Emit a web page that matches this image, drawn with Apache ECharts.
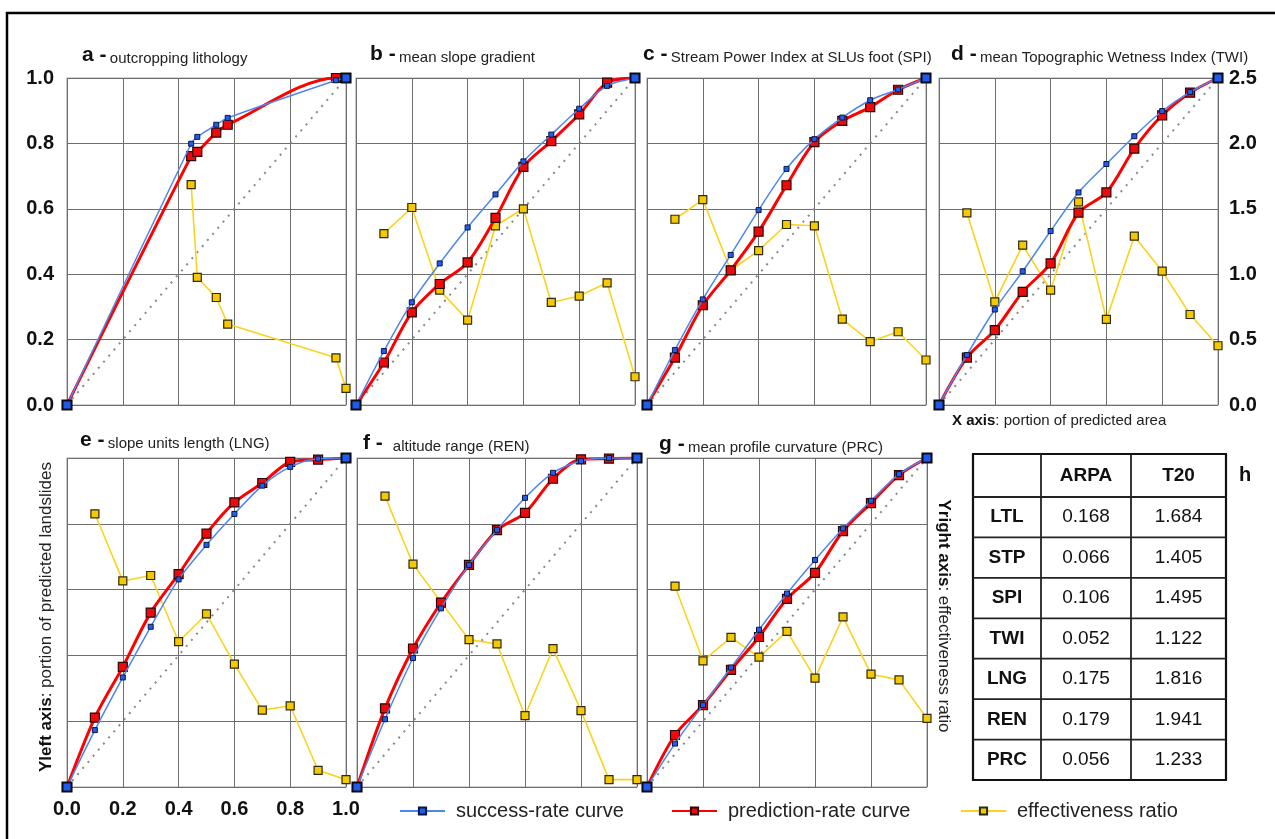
<!DOCTYPE html>
<html>
<head>
<meta charset="utf-8">
<script src="https://cdn.jsdelivr.net/npm/echarts@6/dist/echarts.min.js"></script>
<style>
html,body{margin:0;padding:0;background:#fff;}
#chart{width:1275px;height:839px;}
</style>
</head>
<body>
<div id="chart"></div>
<script>
// ---------------- DATA ----------------
const xDeciles = [0, 0.1, 0.2, 0.3, 0.4, 0.5, 0.6, 0.7, 0.8, 0.9, 1.0];
const effDeciles = [0.1, 0.2, 0.3, 0.4, 0.5, 0.6, 0.7, 0.8, 0.9, 1.0];

// a - outcropping lithology (irregular x)
const aX = [0, 0.445, 0.467, 0.535, 0.576, 0.964, 1.0];
const aSuccess = [0, 0.799, 0.820, 0.857, 0.878, 0.993, 1.0];
const aPrediction = [0, 0.761, 0.774, 0.833, 0.857, 1.0, 1.0];
const aEffX = [0.445, 0.467, 0.535, 0.576, 0.964, 1.0];
const aEff = [1.685, 0.975, 0.822, 0.619, 0.361, 0.127];

// b - mean slope gradient
const bSuccess = [0, 0.165, 0.314, 0.433, 0.543, 0.644, 0.745, 0.827, 0.906, 0.976, 1.0];
const bPrediction = [0, 0.130, 0.283, 0.370, 0.436, 0.572, 0.728, 0.807, 0.889, 0.986, 1.0];
const bEff = [1.31, 1.51, 0.878, 0.649, 1.37, 1.50, 0.784, 0.833, 0.934, 0.216];

// c - SPI
const cSuccess = [0, 0.168, 0.323, 0.459, 0.596, 0.722, 0.813, 0.879, 0.932, 0.965, 1.0];
const cPrediction = [0, 0.145, 0.305, 0.412, 0.530, 0.672, 0.804, 0.869, 0.911, 0.964, 1.0];
const cEff = [1.42, 1.57, 1.03, 1.18, 1.38, 1.37, 0.657, 0.484, 0.560, 0.344];

// d - TWI
const dSuccess = [0, 0.153, 0.292, 0.409, 0.532, 0.650, 0.737, 0.822, 0.899, 0.957, 1.0];
const dPrediction = [0, 0.145, 0.229, 0.346, 0.433, 0.588, 0.650, 0.784, 0.886, 0.955, 1.0];
const dEff = [1.469, 0.789, 1.222, 0.878, 1.553, 0.654, 1.291, 1.023, 0.692, 0.453];

// e - LNG
const eSuccess = [0, 0.173, 0.333, 0.487, 0.631, 0.736, 0.830, 0.916, 0.973, 0.998, 1.0];
const ePrediction = [0, 0.211, 0.365, 0.530, 0.647, 0.770, 0.865, 0.924, 0.988, 0.995, 1.0];
const eEff = [2.076, 1.566, 1.607, 1.104, 1.315, 0.934, 0.584, 0.617, 0.127, 0.056];

// f - REN
const fSuccess = [0, 0.206, 0.392, 0.543, 0.675, 0.781, 0.879, 0.955, 0.991, 1.0, 1.0];
const fPrediction = [0, 0.239, 0.421, 0.560, 0.675, 0.781, 0.833, 0.937, 0.996, 0.998, 1.0];
const fEff = [2.210, 1.693, 1.405, 1.120, 1.087, 0.542, 1.051, 0.580, 0.056, 0.056];

// g - PRC
const gSuccess = [0, 0.132, 0.249, 0.363, 0.478, 0.588, 0.690, 0.786, 0.870, 0.951, 1.0];
const gPrediction = [0, 0.158, 0.249, 0.356, 0.456, 0.572, 0.651, 0.778, 0.863, 0.948, 1.0];
const gEff = [1.526, 0.959, 1.137, 0.987, 1.183, 0.827, 1.292, 0.857, 0.814, 0.521];

const panelLetters = ['a', 'b', 'c', 'd', 'e', 'f', 'g'];
const panelTitles = ['outcropping lithology', 'mean slope gradient', 'Stream Power Index at SLUs foot (SPI)',
  'mean Topographic Wetness Index (TWI)', 'slope units length (LNG)', 'altitude range (REN)', 'mean profile curvature (PRC)'];

const tableHeader = ['', 'ARPA', 'T20'];
const tableRows = ['LTL', 'STP', 'SPI', 'TWI', 'LNG', 'REN', 'PRC'];
const tableArpa = ['0.168', '0.066', '0.106', '0.052', '0.175', '0.179', '0.056'];
const tableT20 = ['1.684', '1.405', '1.495', '1.122', '1.816', '1.941', '1.233'];

const legendNames = ['success-rate curve', 'prediction-rate curve', 'effectiveness ratio'];

// ---------------- LAYOUT ----------------
const FONT = '"Liberation Sans", Arial, sans-serif';
const panels = [
  {x: aX, s: aSuccess, p: aPrediction, ex: aEffX, e: aEff, g: {left: 67, top: 78, width: 279, height: 327}, t: [82, 54]},
  {x: xDeciles, s: bSuccess, p: bPrediction, ex: effDeciles, e: bEff, g: {left: 356, top: 78, width: 279, height: 327}, t: [370, 53]},
  {x: xDeciles, s: cSuccess, p: cPrediction, ex: effDeciles, e: cEff, g: {left: 647, top: 78, width: 279, height: 327}, t: [643, 53]},
  {x: xDeciles, s: dSuccess, p: dPrediction, ex: effDeciles, e: dEff, g: {left: 939, top: 78, width: 279, height: 327}, t: [951, 53]},
  {x: xDeciles, s: eSuccess, p: ePrediction, ex: effDeciles, e: eEff, g: {left: 67, top: 458, width: 279, height: 329}, t: [80, 439]},
  {x: xDeciles, s: fSuccess, p: fPrediction, ex: effDeciles, e: fEff, g: {left: 357, top: 458, width: 280, height: 329}, t: [363, 442]},
  {x: xDeciles, s: gSuccess, p: gPrediction, ex: effDeciles, e: gEff, g: {left: 647, top: 458, width: 280, height: 329}, t: [659, 443]}
];

const fmt1 = v => v.toFixed(1);
const boldLabel = {fontFamily: FONT, fontSize: 20, fontWeight: 'bold', color: '#111'};

const grids = [], xAxes = [], yAxes = [], series = [], graphics = [];

panels.forEach((pn, i) => {
  grids.push(Object.assign({show: true, borderColor: '#a8a8a8', borderWidth: 1.2, backgroundColor: 'transparent', outerBoundsMode: 'none'}, pn.g));
  xAxes.push({
    type: 'value', gridIndex: i, min: 0, max: 1, interval: 0.2,
    axisLine: {show: false}, axisTick: {show: false},
    axisLabel: Object.assign({show: i === 4, margin: 12, formatter: fmt1}, boldLabel),
    splitLine: {show: true, lineStyle: {color: '#6e6e6e', width: 1}}
  });
  yAxes.push({
    type: 'value', gridIndex: i, position: 'left', min: 0, max: 1, interval: 0.2,
    axisLine: {show: false}, axisTick: {show: false},
    axisLabel: Object.assign({show: i === 0, margin: 13, formatter: fmt1}, boldLabel),
    splitLine: {show: true, lineStyle: {color: '#6e6e6e', width: 1}}
  });
  yAxes.push({
    type: 'value', gridIndex: i, position: 'right', min: 0, max: 2.5, interval: 0.5,
    axisLine: {show: false}, axisTick: {show: false},
    axisLabel: Object.assign({show: i === 3, margin: 11, formatter: fmt1}, boldLabel),
    splitLine: {show: false}
  });

  // diagonal reference
  series.push({
    type: 'line', name: 'random', xAxisIndex: i, yAxisIndex: 2 * i, data: [[0, 0], [1, 1]],
    symbol: 'none', silent: true, z: 1,
    lineStyle: {color: '#8a8a8a', width: 2, type: [2, 6]}
  });
  // effectiveness ratio
  series.push({
    type: 'line', name: legendNames[2], xAxisIndex: i, yAxisIndex: 2 * i + 1,
    data: pn.ex.map((x, k) => [x, pn.e[k]]),
    symbol: 'rect', symbolSize: 8, z: 2,
    lineStyle: {color: '#fad31e', width: 1.6},
    itemStyle: {color: '#f5c800', borderColor: '#2e2a10', borderWidth: 1.2}
  });
  // prediction rate curve
  series.push({
    type: 'line', name: legendNames[1], xAxisIndex: i, yAxisIndex: 2 * i,
    data: pn.x.map((x, k) => [x, pn.p[k]]),
    smooth: 0.3, symbol: 'rect', symbolSize: 9, z: 3,
    lineStyle: {color: '#ff0000', width: 3},
    itemStyle: {color: '#ee0a0a', borderColor: '#2a0505', borderWidth: 1.2}
  });
  // success rate curve
  const last = pn.x.length - 1;
  series.push({
    type: 'line', name: legendNames[0], xAxisIndex: i, yAxisIndex: 2 * i,
    data: pn.x.map((x, k) => {
      if (k === 0 || k === last) {
        return {value: [x, pn.s[k]], symbolSize: 9, itemStyle: {color: '#1e5cf0', borderColor: '#0a0a14', borderWidth: 2}};
      }
      return [x, pn.s[k]];
    }),
    smooth: 0.3, symbol: 'rect', symbolSize: 5, z: 4,
    lineStyle: {color: '#4d86ee', width: 1.5},
    itemStyle: {color: '#1f5ef0', borderColor: '#0b1740', borderWidth: 1}
  });

  // panel title
  graphics.push({
    type: 'text', x: pn.t[0], y: pn.t[1],
    style: {
      text: '{l|' + panelLetters[i] + ' -}' + (i === 5 ? '   ' : ' ') + '{t|' + panelTitles[i] + '}',
      verticalAlign: 'middle', align: 'left',
      rich: {
        l: {fontFamily: FONT, fontSize: 21, fontWeight: 'bold', fill: '#111', verticalAlign: 'bottom', lineHeight: 24},
        t: {fontFamily: FONT, fontSize: 15, fill: '#222', verticalAlign: 'bottom', lineHeight: 22}
      }
    }
  });
});

// axis captions
graphics.push({
  type: 'text', x: 952, y: 421,
  style: {
    text: '{b|X axis}{n|: portion of predicted area}', verticalAlign: 'middle',
    rich: {b: {fontFamily: FONT, fontSize: 15, fontWeight: 'bold', fill: '#111'}, n: {fontFamily: FONT, fontSize: 15, fill: '#222'}}
  }
});
graphics.push({
  type: 'text', x: 46, y: 617, rotation: Math.PI / 2,
  style: {
    text: '{b|Yleft axis}{n|: portion of predicted landslides}', verticalAlign: 'middle', align: 'center',
    rich: {b: {fontFamily: FONT, fontSize: 17, fontWeight: 'bold', fill: '#111'}, n: {fontFamily: FONT, fontSize: 17, fill: '#222'}}
  }
});
graphics.push({
  type: 'text', x: 944, y: 616, rotation: -Math.PI / 2,
  style: {
    text: '{b|Yright axis}{n|: effectiveness ratio}', verticalAlign: 'middle', align: 'center',
    rich: {b: {fontFamily: FONT, fontSize: 17, fontWeight: 'bold', fill: '#111'}, n: {fontFamily: FONT, fontSize: 17, fill: '#222'}}
  }
});

// outer frame
graphics.push({
  type: 'polyline', silent: true,
  shape: {points: [[7, 839], [7, 13], [1275, 13]]},
  style: {stroke: '#000', lineWidth: 2.5, fill: null}
});

// table h
const colX = [973, 1041, 1131, 1226];
const headTop = 454, headBot = 497, tblBot = 780;
const rowH = (tblBot - headBot) / tableRows.length;
const cellText = (txt, cx, cy, bold) => ({
  type: 'text', x: cx, y: cy,
  style: {text: txt, align: 'center', verticalAlign: 'middle', fontFamily: FONT, fontSize: 19,
    fontWeight: bold ? 'bold' : 'normal', fill: '#111'}
});
graphics.push({type: 'rect', shape: {x: colX[0], y: headTop, width: colX[3] - colX[0], height: tblBot - headTop},
  style: {fill: '#fff', stroke: '#111', lineWidth: 2.2}, z: 10});
for (let c = 1; c < 3; c++) {
  graphics.push({type: 'line', shape: {x1: colX[c], y1: headTop, x2: colX[c], y2: tblBot}, style: {stroke: '#222', lineWidth: 1.8}, z: 11});
}
for (let r = 0; r < tableRows.length; r++) {
  const yl = headBot + r * rowH;
  graphics.push({type: 'line', shape: {x1: colX[0], y1: yl, x2: colX[3], y2: yl}, style: {stroke: '#222', lineWidth: 1.8}, z: 11});
}
tableHeader.forEach((h, c) => {
  if (h) graphics.push(Object.assign(cellText(h, (colX[c] + colX[c + 1]) / 2, (headTop + headBot) / 2, true), {z: 12}));
});
tableRows.forEach((name, r) => {
  const cy = headBot + (r + 0.5) * rowH;
  graphics.push(Object.assign(cellText(name, (colX[0] + colX[1]) / 2, cy, true), {z: 12}));
  graphics.push(Object.assign(cellText(tableArpa[r], (colX[1] + colX[2]) / 2, cy, false), {z: 12}));
  graphics.push(Object.assign(cellText(tableT20[r], (colX[2] + colX[3]) / 2, cy, false), {z: 12}));
});
graphics.push({type: 'text', x: 1245, y: 475, style: {text: 'h', align: 'center', verticalAlign: 'middle',
  fontFamily: FONT, fontSize: 20, fontWeight: 'bold', fill: '#111'}});

// legends
const legendPos = [399, 671, 960];
const legends = legendNames.map((n, k) => ({
  data: [n], left: legendPos[k], top: 801, orient: 'horizontal', padding: 0,
  itemWidth: 45, itemHeight: 9, selectedMode: false,
  lineStyle: {width: 2},
  textStyle: {fontFamily: FONT, fontSize: 20, color: '#222', padding: [0, 0, 0, 6]}
}));

const chart = echarts.init(document.getElementById('chart'), null, {renderer: 'canvas'});
chart.setOption({
  animation: false,
  backgroundColor: '#fff',
  grid: grids,
  xAxis: xAxes,
  yAxis: yAxes,
  legend: legends,
  series: series,
  graphic: graphics
});
</script>
</body>
</html>
